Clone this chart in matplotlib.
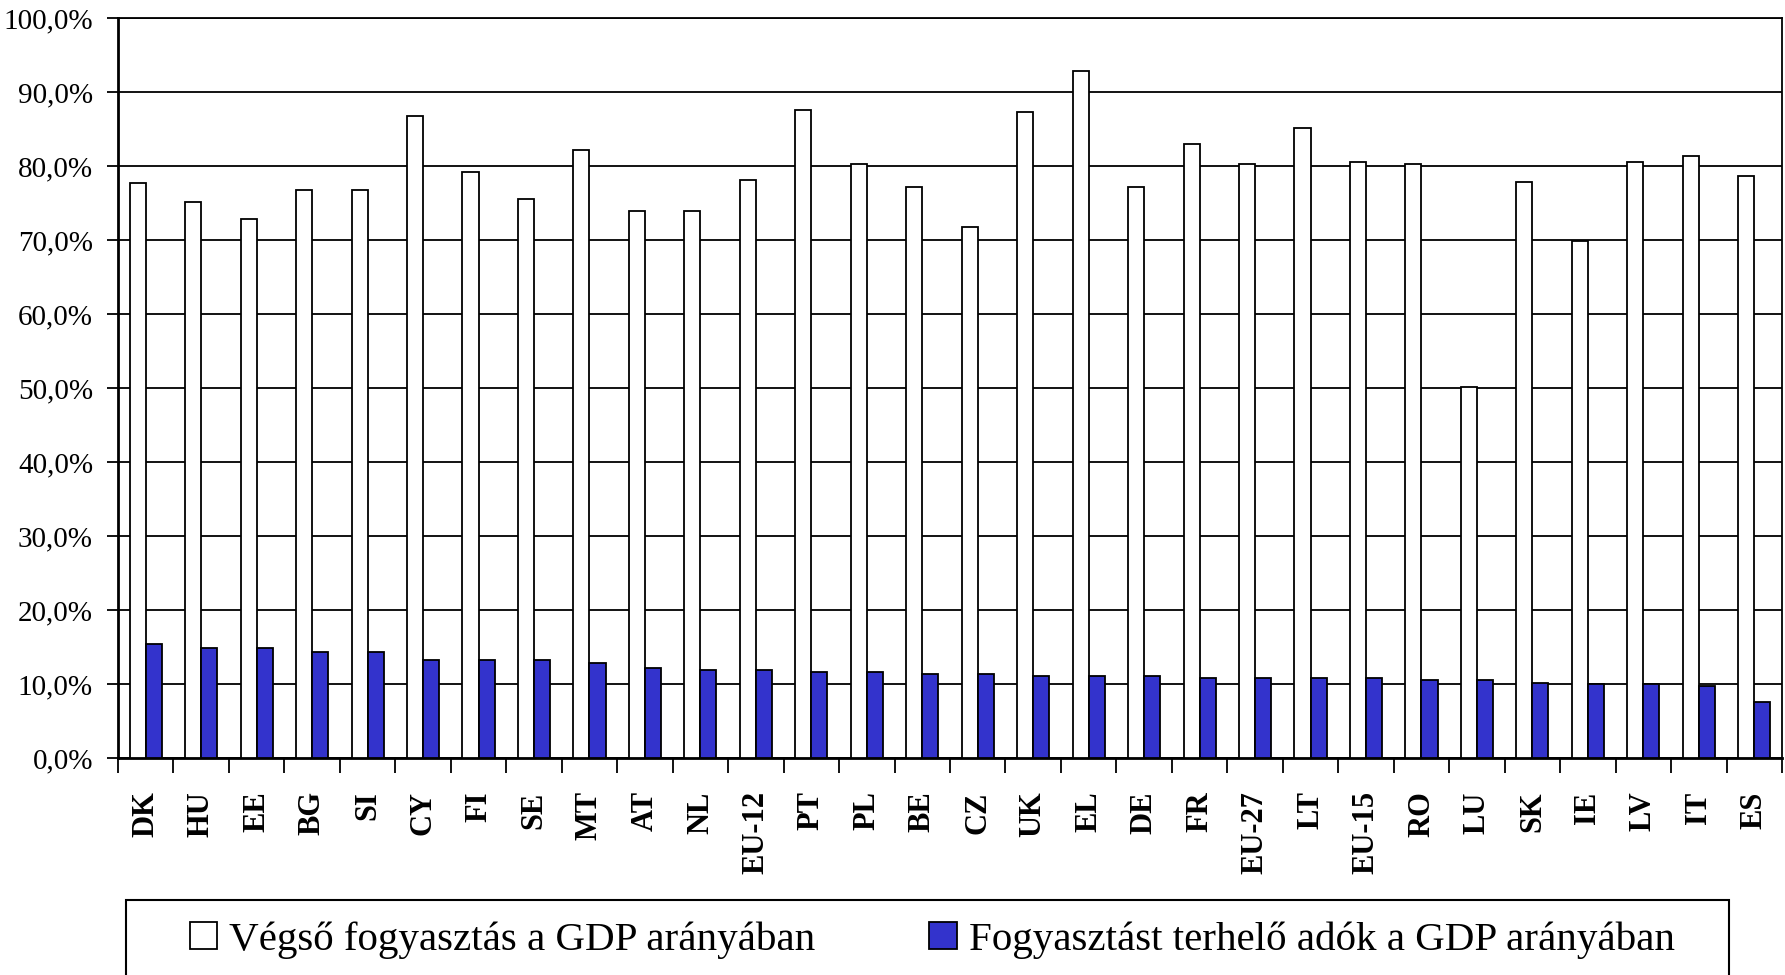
import matplotlib.pyplot as plt
from matplotlib.patches import Rectangle
from matplotlib.ticker import FuncFormatter, MultipleLocator

countries = ["DK", "HU", "EE", "BG", "SI", "CY", "FI", "SE", "MT", "AT",
             "NL", "EU-12", "PT", "PL", "BE", "CZ", "UK", "EL", "DE", "FR",
             "EU-27", "LT", "EU-15", "RO", "LU", "SK", "IE", "LV", "IT", "ES"]
consumption = [77.7, 75.2, 72.8, 76.8, 76.8, 86.8, 79.2, 75.5, 82.2, 73.9,
               73.9, 78.1, 87.6, 80.3, 77.1, 71.7, 87.3, 92.8, 77.1, 83.0,
               80.3, 85.2, 80.5, 80.3, 50.2, 77.9, 69.8, 80.5, 81.4, 78.7]
taxes = [15.4, 14.9, 14.9, 14.3, 14.3, 13.3, 13.3, 13.3, 12.9, 12.2,
         11.9, 11.9, 11.6, 11.6, 11.3, 11.3, 11.1, 11.1, 11.1, 10.8,
         10.8, 10.8, 10.8, 10.5, 10.5, 10.2, 10.0, 10.0, 9.7, 7.6]
labels = ["Végső fogyasztás a GDP arányában",
          "Fogyasztást terhelő adók a GDP arányában"]

W, H = 1785, 975
plt.rcParams['font.family'] = ['Liberation Serif', 'DejaVu Serif']

fig = plt.figure(figsize=(W / 100, H / 100), dpi=100)
ax = fig.add_axes([118 / W, 1 - 758 / H, (1782 - 118) / W, (758 - 18) / H])

x = list(range(len(countries)))
bw = 0.29
b1 = ax.bar([i - bw / 2 for i in x], consumption, width=bw, color="white",
            edgecolor="black", linewidth=1.3, zorder=3, label=labels[0])
b2 = ax.bar([i + bw / 2 for i in x], taxes, width=bw, color="#3333CC",
            edgecolor="black", linewidth=1.3, zorder=3, label=labels[1])

ax.set_xlim(-0.5, len(countries) - 0.5)
ax.set_ylim(0, 100)
ax.yaxis.set_major_locator(MultipleLocator(10))
ax.yaxis.set_major_formatter(FuncFormatter(lambda v, p: f"{v:.1f}%".replace(".", ",")))
ax.grid(axis="y", color="black", linewidth=1.3, zorder=0)
ax.tick_params(axis="y", direction="out", length=8, width=1.3, pad=10,
               labelsize=21)

ax.set_xticks(x)
ax.set_xticklabels(countries, rotation=90, fontweight="bold", fontsize=22)
ax.tick_params(axis="x", which="major", length=0, pad=24)
ax.set_xticks([i + 0.5 for i in range(-1, len(countries))], minor=True)
ax.tick_params(axis="x", which="minor", direction="out", length=11, width=1.3)

for s in ax.spines.values():
    s.set_linewidth(1.3)
ax.spines["left"].set_linewidth(2)
ax.spines["bottom"].set_linewidth(2)

leg = ax.legend(handles=[b1, b2], labels=labels, ncol=2, frameon=False,
                loc="center left", bbox_to_anchor=(190 / W, 1 - 940 / H),
                bbox_transform=fig.transFigure, fontsize=29.5, borderpad=0,
                borderaxespad=0, handlelength=0.66, handleheight=0.66,
                handletextpad=0.3, columnspacing=2.78)

fig.patches.append(Rectangle((126 / W, -0.05), (1729 - 126) / W,
                             (975 - 900) / H + 0.05, transform=fig.transFigure,
                             fill=False, edgecolor="black", linewidth=1.5))

fig.savefig("out.png", dpi=100)
